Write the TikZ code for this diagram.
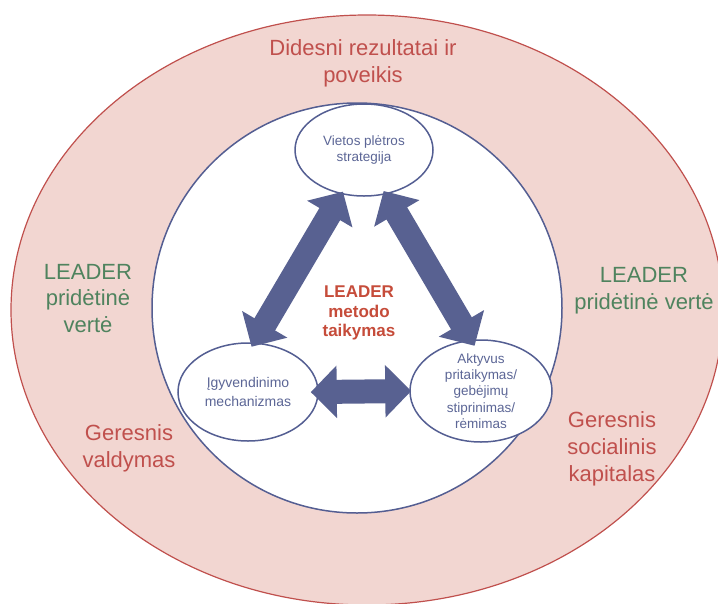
\documentclass[tikz,border=0pt]{standalone}
\usepackage{fontspec}
\setmainfont{Liberation Sans}
\usetikzlibrary{arrows.meta,shapes.geometric}
\definecolor{lred}{RGB}{192,80,77}
\definecolor{lpink}{RGB}{242,214,209}
\definecolor{lgreen}{RGB}{79,131,94}
\definecolor{lblue}{RGB}{84,94,146}
\definecolor{larrow}{RGB}{88,97,145}
\definecolor{lbtext}{RGB}{92,102,150}
\definecolor{lbold}{RGB}{198,76,58}

\begin{document}
\begin{tikzpicture}[x=1pt, y=-1pt,
  ringtext/.style={font=\fontsize{22}{26.8}\selectfont, align=center, inner sep=0pt},
  partnode/.style={ellipse, draw=lblue, line width=1.5pt, fill=white, text=lbtext, align=center,
    inner sep=-4pt, font=\fontsize{13.5}{16.3}\selectfont},
  linkarrow/.style={draw=larrow, line width=24pt,
    {Triangle[length=26pt,width=51pt]}-{Triangle[length=26pt,width=51pt]}}]
\useasboundingbox (0,0) rectangle (718,603);
% outer ring and core circle
\path[draw=lred, line width=1.2pt, fill=lpink] (367,310) ellipse [x radius=356, y radius=295];
\node[circle, draw=lblue, line width=1.5pt, fill=white, minimum size=410pt, inner sep=0pt] (core) at (357,308) {};
% texts in the ring
\node[ringtext, text=lred] (result) at (363,63) {Didesni rezultatai ir\\poveikis};
\node[ringtext, text=lgreen] (addleft) at (88,298.5) {LEADER\\pridėtinė\\vertė};
\node[ringtext, text=lgreen] (addright) at (644,291) {LEADER\\pridėtinė vertė};
\node[ringtext, text=lred] (govern) at (129,448) {Geresnis\\valdymas};
\node[ringtext, text=lred] (social) at (612,449) {Geresnis\\socialinis\\kapitalas};
% the three parts
\node[partnode, minimum width=138pt, minimum height=92pt] (strat) at (364,150) {Vietos plėtros\\strategija};
\node[partnode, minimum width=140pt, minimum height=98pt, font=\fontsize{14}{19}\selectfont] (igyv) at (248,392) {Įgyvendinimo\\mechanizmas};
\node[partnode, minimum width=142pt, minimum height=102pt] (akt) at (481,391) {Aktyvus\\pritaikymas/\\gebėjimų\\stiprinimas/\\rėmimas};
% links
\draw[linkarrow, shorten <=-3pt, shorten >=-5pt] (strat.243) -- (igyv.83);
\draw[linkarrow, shorten <=-4pt, shorten >=-7pt] (strat.296) -- (akt.101);
\draw[linkarrow, shorten <=-8pt, shorten >=-2pt] (igyv.east) -- (akt.west);
\node[align=center, text=lbold, inner sep=0pt, font=\bfseries\fontsize{17}{19.5}\selectfont] (method) at (359,313) {LEADER\\metodo\\taikymas};
\end{tikzpicture}
\end{document}
